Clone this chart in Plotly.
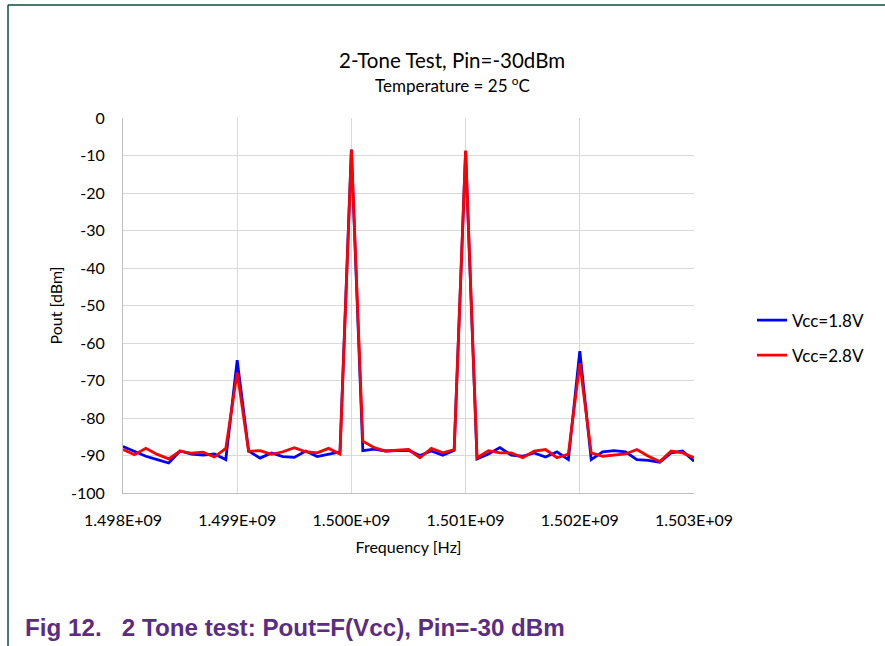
import plotly.graph_objects as go

freq_start_hz = 1.498e9
freq_step_hz = 0.1e6
n_points = 51
freq_hz = [freq_start_hz + i * freq_step_hz for i in range(n_points)]

pout_vcc_1v8 = [
    -87.6, -88.9, -90.2, -91.1, -92.0, -88.8, -89.6, -89.9, -89.6, -91.1,
    -64.6, -88.8, -90.7, -89.3, -90.3, -90.5, -88.8, -90.3, -89.7, -89.0,
    -8.4, -88.7, -88.3, -88.8, -88.7, -88.6, -90.0, -88.8, -89.9, -88.6,
    -8.9, -90.9, -89.6, -87.9, -89.9, -90.2, -89.3, -90.4, -89.0, -91.1,
    -62.2, -91.1, -89.0, -88.7, -89.0, -91.1, -91.3, -91.8, -89.3, -88.8,
    -91.5,
]
pout_vcc_2v8 = [
    -88.4, -89.8, -88.1, -89.7, -90.9, -88.8, -89.4, -89.1, -90.4, -88.1,
    -67.9, -88.9, -88.7, -89.7, -89.0, -87.9, -89.0, -89.3, -88.1, -89.6,
    -8.5, -86.2, -87.9, -88.8, -88.6, -88.4, -90.6, -88.1, -89.3, -88.4,
    -8.7, -90.6, -88.7, -89.3, -89.3, -90.6, -88.8, -88.4, -90.6, -89.6,
    -65.4, -89.3, -90.2, -89.9, -89.6, -88.4, -90.2, -91.6, -88.8, -89.3,
    -90.6,
]
series_names = ["Vcc=1.8V", "Vcc=2.8V"]
series_colors = ["#0000ff", "#ff0000"]

x_tick_vals = [1.498e9, 1.499e9, 1.500e9, 1.501e9, 1.502e9, 1.503e9]
x_tick_text = ["1.498E+09", "1.499E+09", "1.500E+09", "1.501E+09", "1.502E+09", "1.503E+09"]
y_tick_vals = [0, -10, -20, -30, -40, -50, -60, -70, -80, -90, -100]
y_tick_text = ["0", "-10", "-20", "-30", "-40", "-50", "-60", "-70", "-80", "-90", "-100"]

title_text = "2-Tone Test, Pin=-30dBm"
subtitle_text = "Temperature = 25 <sup>o</sup>C"
x_title = "Frequency [Hz]"
y_title = "Pout [dBm]"
caption_text = "Fig 12.   2 Tone test: Pout=F(Vcc), Pin=-30 dBm"

W, H = 885, 646
ML, MR, MT, MB = 123, 191, 118, 153
PW = W - ML - MR
PH = H - MT - MB

def px_x(px):
    return (px - ML) / PW

def px_y(py):
    return (H - MB - py) / PH

font_main = "Lato, 'Open Sans', sans-serif"

fig = go.Figure()
for name, color, vals in zip(series_names, series_colors, [pout_vcc_1v8, pout_vcc_2v8]):
    fig.add_trace(go.Scatter(
        x=freq_hz, y=vals, mode="lines", name=name, legendgroup=name,
        line=dict(color=color, width=2.8),
    ))

fig.update_layout(
    width=W, height=H,
    margin=dict(l=ML, r=MR, t=MT, b=MB, pad=0),
    paper_bgcolor="white", plot_bgcolor="white",
    font=dict(family=font_main, size=16, color="#000000"),
    showlegend=True,
    legend=dict(
        x=px_x(752), y=px_y(338), xanchor="left", yanchor="middle",
        font=dict(size=17, color="#000000"),
        bgcolor="rgba(0,0,0,0)", tracegroupgap=10,
    ),
    xaxis=dict(
        range=[1.498e9, 1.503e9], tickvals=x_tick_vals, ticktext=x_tick_text,
        showgrid=True, gridcolor="#d9d9d9", gridwidth=1,
        showline=True, linecolor="#bfbfbf", linewidth=1,
        ticks="", zeroline=False, tickfont=dict(size=16),
        ticklabelstandoff=13,
        title=dict(text=x_title, font=dict(size=16), standoff=13),
    ),
    yaxis=dict(
        range=[-100, 0], tickvals=y_tick_vals, ticktext=y_tick_text,
        showgrid=True, gridcolor="#d9d9d9", gridwidth=1,
        showline=True, linecolor="#bfbfbf", linewidth=1,
        ticks="", zeroline=False, tickfont=dict(size=16),
        ticklabelstandoff=14,
        title=dict(text=y_title, font=dict(size=16), standoff=4),
    ),
    annotations=[
        dict(text=title_text, x=px_x(452), y=px_y(60), xref="paper", yref="paper",
             showarrow=False, font=dict(size=20.5), xanchor="center", yanchor="middle"),
        dict(text=subtitle_text, x=px_x(452), y=px_y(85), xref="paper", yref="paper",
             showarrow=False, font=dict(size=17), xanchor="center", yanchor="middle"),
        dict(text="<b>" + caption_text + "</b>", x=px_x(23), y=px_y(627), xref="paper", yref="paper",
             showarrow=False, font=dict(family="Liberation Sans, Arial, sans-serif", size=24.2, color="#5b2d82"),
             xanchor="left", yanchor="middle"),
    ],
    shapes=[
        dict(type="line", xref="paper", yref="paper", x0=px_x(8), x1=px_x(885), y0=px_y(5), y1=px_y(5),
             line=dict(color="#0b4f3f", width=1.5)),
        dict(type="line", xref="paper", yref="paper", x0=px_x(8), x1=px_x(8), y0=px_y(5), y1=px_y(646),
             line=dict(color="#0b4f3f", width=1.5)),
    ],
)

fig.write_html("out.html")
